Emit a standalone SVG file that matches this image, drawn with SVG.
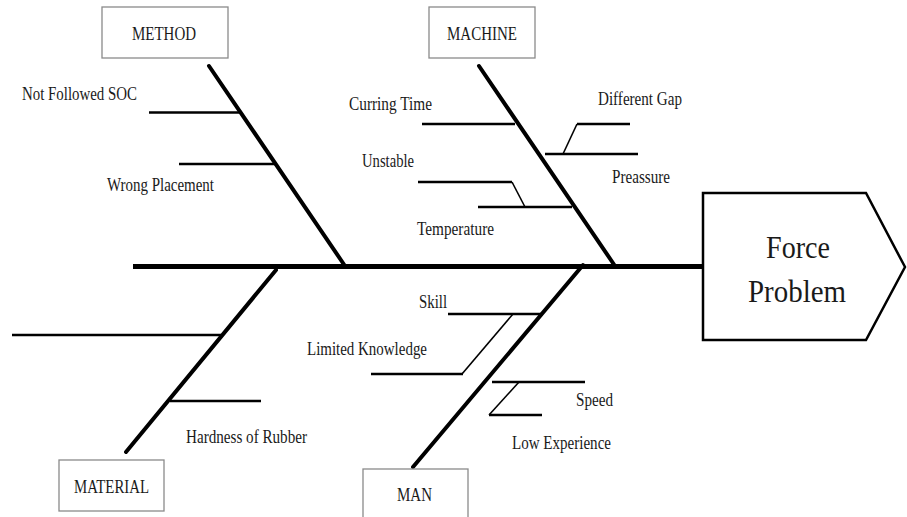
<svg xmlns="http://www.w3.org/2000/svg" width="907" height="517" viewBox="0 0 907 517">
<style>
.bg{fill:#fff}
.box{fill:#fff;stroke:#8a8a8a;stroke-width:1.3}
.head{fill:#fff;stroke:#000;stroke-width:2.5;stroke-linejoin:miter}
.spine{stroke:#000;stroke-width:5;fill:none}
.bone{stroke:#000;stroke-width:4;fill:none;stroke-linecap:round}
.sub{stroke:#000;stroke-width:2.5;fill:none}
.slant{stroke:#000;stroke-width:1.6;fill:none}
text{font-family:"Liberation Serif","Times New Roman",serif;fill:#1a1a1a;font-size:18px}
.big{font-size:31px}
</style>
<rect class="bg" x="0" y="0" width="907" height="517"/>
<g id="connectors">
<line class="spine" x1="133" y1="266.5" x2="704" y2="266.5"/>
<line class="bone" x1="209" y1="66" x2="345" y2="266"/>
<line class="bone" x1="479" y1="66" x2="615" y2="266"/>
<line class="bone" x1="276" y1="270" x2="126" y2="452"/>
<line class="bone" x1="583" y1="265" x2="413" y2="467"/>
<line class="sub" x1="149" y1="112.5" x2="240" y2="112.5"/>
<line class="sub" x1="179" y1="164" x2="275" y2="164"/>
<line class="sub" x1="422" y1="124" x2="515" y2="124"/>
<line class="sub" x1="577" y1="124" x2="630" y2="124"/>
<line class="slant" x1="577" y1="124" x2="563" y2="154"/>
<line class="sub" x1="545" y1="154" x2="638" y2="154"/>
<line class="sub" x1="418" y1="182" x2="512" y2="182"/>
<line class="slant" x1="512" y1="182" x2="525" y2="207"/>
<line class="sub" x1="478" y1="207" x2="572" y2="207"/>
<line class="sub" x1="12" y1="335" x2="221" y2="335"/>
<line class="sub" x1="170" y1="401" x2="261" y2="401"/>
<line class="sub" x1="448" y1="314" x2="543" y2="314"/>
<line class="slant" x1="513" y1="314" x2="462" y2="374"/>
<line class="sub" x1="371" y1="374" x2="463" y2="374"/>
<line class="sub" x1="492" y1="382" x2="585" y2="382"/>
<line class="slant" x1="519" y1="382" x2="489" y2="415"/>
<line class="sub" x1="489" y1="415" x2="542" y2="415"/>
</g>
<g id="method">
<rect class="box" x="102" y="7" width="126" height="51"/>
<text x="132" y="40" textLength="64" lengthAdjust="spacingAndGlyphs">METHOD</text>
</g>
<g id="machine">
<rect class="box" x="429" y="7" width="106" height="51"/>
<text x="447" y="40" textLength="70" lengthAdjust="spacingAndGlyphs">MACHINE</text>
</g>
<g id="material">
<rect class="box" x="59" y="460" width="105" height="51"/>
<text x="74" y="493" textLength="75" lengthAdjust="spacingAndGlyphs">MATERIAL</text>
</g>
<g id="man">
<rect class="box" x="363" y="469" width="105" height="60"/>
<text x="397" y="501" textLength="35" lengthAdjust="spacingAndGlyphs">MAN</text>
</g>
<g id="problem">
<polygon class="head" points="703,193 866,193 905,267 866,340 703,340"/>
<text class="big" x="766" y="258" textLength="64" lengthAdjust="spacingAndGlyphs">Force</text>
<text class="big" x="748" y="302" textLength="98" lengthAdjust="spacingAndGlyphs">Problem</text>
</g>
<g id="labels">
<text x="22" y="100" textLength="115" lengthAdjust="spacingAndGlyphs">Not Followed SOC</text>
<text x="107" y="191" textLength="107" lengthAdjust="spacingAndGlyphs">Wrong Placement</text>
<text x="349" y="110" textLength="83" lengthAdjust="spacingAndGlyphs">Curring Time</text>
<text x="598" y="105" textLength="84" lengthAdjust="spacingAndGlyphs">Different Gap</text>
<text x="362" y="167" textLength="52" lengthAdjust="spacingAndGlyphs">Unstable</text>
<text x="612" y="183" textLength="58" lengthAdjust="spacingAndGlyphs">Preassure</text>
<text x="417" y="235" textLength="77" lengthAdjust="spacingAndGlyphs">Temperature</text>
<text x="186" y="443" textLength="121" lengthAdjust="spacingAndGlyphs">Hardness of Rubber</text>
<text x="419" y="308" textLength="28" lengthAdjust="spacingAndGlyphs">Skill</text>
<text x="307" y="355" textLength="120" lengthAdjust="spacingAndGlyphs">Limited Knowledge</text>
<text x="576" y="406" textLength="37" lengthAdjust="spacingAndGlyphs">Speed</text>
<text x="512" y="449" textLength="99" lengthAdjust="spacingAndGlyphs">Low Experience</text>
</g>
</svg>
